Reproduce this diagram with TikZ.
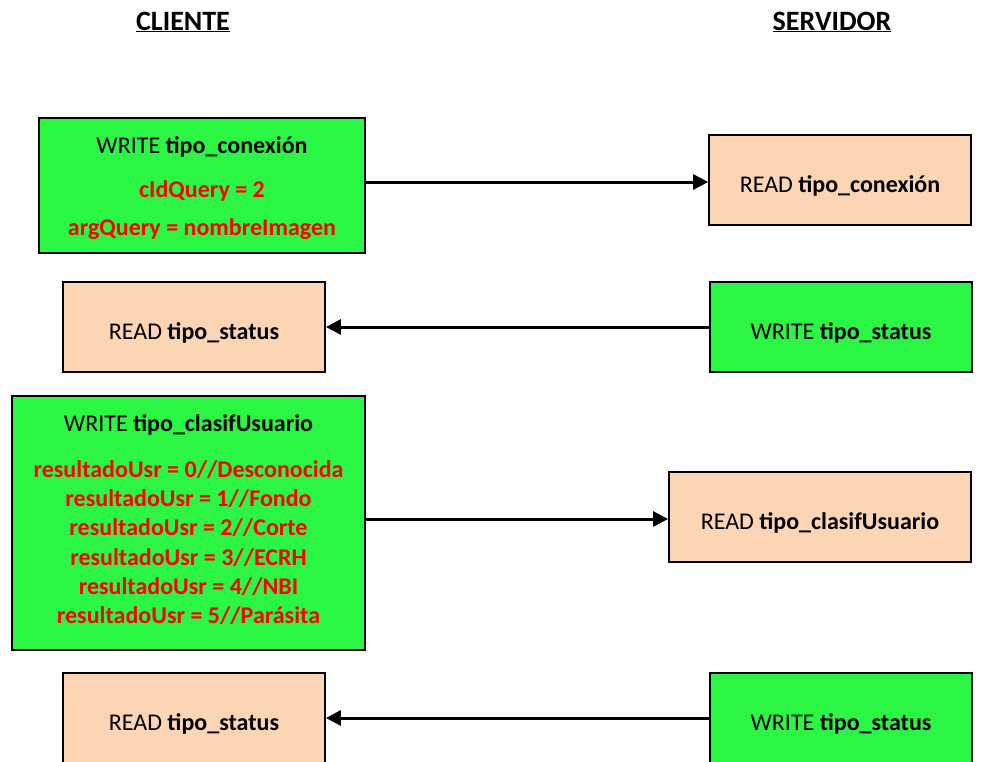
\documentclass[tikz,border=0pt]{standalone}
\usepackage{fontspec}
\setmainfont{Carlito}
\usetikzlibrary{arrows.meta}
\definecolor{boxgreen}{RGB}{43,246,67}
\definecolor{boxpeach}{RGB}{251,213,180}
\definecolor{textred}{RGB}{255,0,0}
\newcommand{\rd}[1]{\textcolor{textred}{\textbf{#1}}}
\begin{document}
\begin{tikzpicture}[x=1pt,y=-1pt,
  box/.style={draw=black, line width=1.8pt, inner sep=0pt},
  wbox/.style={box, fill=boxgreen},
  rbox/.style={box, fill=boxpeach},
  txt/.style={align=center, inner sep=0pt, font=\fontsize{24}{29.3}\selectfont},
  link/.style={line width=3pt, -{Triangle[length=15pt,width=15pt]}},
  title/.style={font=\fontsize{28}{32}\selectfont\bfseries}
]
\useasboundingbox (0,0) rectangle (992,762);
\node[title] (cli) at (183,22) {\underline{CLIENTE}};
\node[title] (srv) at (832,22) {\underline{SERVIDOR}};

\node[wbox, minimum width=326pt, minimum height=135pt] (b1) at (202,185.5) {};
\node[txt] (t1) at ([yshift=-2.5pt]b1.center)
  {WRITE \textbf{tipo\_conexión}\\[15pt]
   \rd{cIdQuery = 2}\\[8pt]
   \rd{argQuery = nombreImagen}};
\node[rbox, minimum width=262pt, minimum height=90pt] (b2) at (840,180) {};
\node[txt] (t2) at ([yshift=-6pt]b2.center) {READ \textbf{tipo\_conexión}};

\node[rbox, minimum width=262pt, minimum height=90pt] (b3) at (194,327) {};
\node[txt] (t3) at ([yshift=-6pt]b3.center) {READ \textbf{tipo\_status}};
\node[wbox, minimum width=262pt, minimum height=90pt] (b4) at (841,327) {};
\node[txt] (t4) at ([yshift=-6pt]b4.center) {WRITE \textbf{tipo\_status}};

\node[wbox, minimum width=353pt, minimum height=254pt] (b5) at (188.5,523) {};
\node[txt] (t5) at ([yshift=3pt]b5.center)
  {WRITE \textbf{tipo\_clasifUsuario}\\[16pt]
   \rd{resultadoUsr = 0//Desconocida}\\
   \rd{resultadoUsr = 1//Fondo}\\
   \rd{resultadoUsr = 2//Corte}\\
   \rd{resultadoUsr = 3//ECRH}\\
   \rd{resultadoUsr = 4//NBI}\\
   \rd{resultadoUsr = 5//Parásita}};
\node[rbox, minimum width=302pt, minimum height=90pt] (b6) at (820,517) {};
\node[txt] (t6) at ([yshift=-6pt]b6.center) {READ \textbf{tipo\_clasifUsuario}};

\node[rbox, minimum width=262pt, minimum height=90pt] (b7) at (194,718) {};
\node[txt] (t7) at ([yshift=-6pt]b7.center) {READ \textbf{tipo\_status}};
\node[wbox, minimum width=262pt, minimum height=90pt] (b8) at (841,718) {};
\node[txt] (t8) at ([yshift=-6pt]b8.center) {WRITE \textbf{tipo\_status}};

\draw[link] ([yshift=-2pt]b2.west -| b1.east) -- ([yshift=-2pt]b2.west);
\draw[link] (b4.west) -- (b4.west -| b3.east);
\draw[link] ([yshift=-2pt]b6.west -| b5.east) -- ([yshift=-2pt]b6.west);
\draw[link] (b8.west) -- (b8.west -| b7.east);
\end{tikzpicture}
\end{document}
